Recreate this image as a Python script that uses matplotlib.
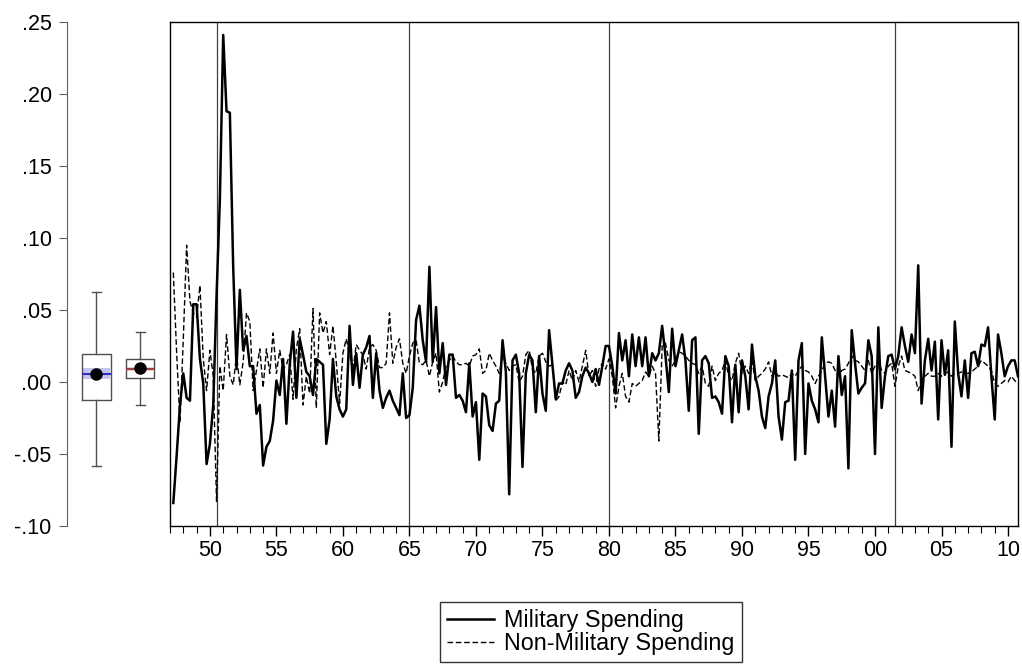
import matplotlib
matplotlib.use("Agg")
import matplotlib.pyplot as plt
import numpy as np
import pandas as pd

plt.rcParams["font.family"] = ["Liberation Sans", "DejaVu Sans"]

# quarterly growth of government spending, 1947Q2 - 2010Q4 (one row per year)
military = [
    -0.084, -0.051, -0.016,
    0.006, -0.011, -0.013, 0.054,
    0.054, 0.016, -0.001, -0.057,
    -0.043, -0.016, 0.060, 0.127,
    0.241, 0.188, 0.187, 0.080,
    0.009, 0.064, 0.022, 0.032,
    0.011, 0.011, -0.022, -0.016,
    -0.058, -0.045, -0.041, -0.027,
    0.001, -0.009, 0.016, -0.029,
    0.012, 0.035, -0.011, 0.030,
    0.019, 0.007, 0.004, -0.009,
    0.016, 0.014, 0.012, -0.043,
    -0.026, 0.016, -0.010, -0.019,
    -0.024, -0.019, 0.039, -0.002,
    0.020, -0.004, 0.019, 0.024,
    0.032, -0.011, 0.020, -0.006,
    -0.018, -0.011, -0.006, -0.013,
    -0.018, -0.023, 0.006, -0.025,
    -0.023, -0.004, 0.043, 0.053,
    0.029, 0.014, 0.080, 0.014,
    0.052, 0.006, 0.027, -0.002,
    0.019, 0.019, -0.011, -0.009,
    -0.013, -0.021, 0.013, -0.024,
    -0.014, -0.054, -0.008, -0.010,
    -0.030, -0.034, -0.015, -0.013,
    0.029, 0.007, -0.078, 0.015,
    0.019, 0.006, -0.059, 0.006,
    0.019, 0.015, -0.021, 0.018,
    -0.008, -0.020, 0.036, 0.012,
    -0.012, -0.001, -0.001, 0.008,
    0.013, 0.008, -0.011, -0.007,
    0.004, 0.010, 0.006, 0.000,
    0.009, -0.002, 0.011, 0.025,
    0.025, 0.011, -0.008, 0.034,
    0.015, 0.029, 0.004, 0.033,
    0.011, 0.031, 0.011, 0.031,
    0.004, 0.020, 0.015, 0.020,
    0.039, 0.018, -0.007, 0.037,
    0.011, 0.022, 0.033, 0.015,
    -0.020, 0.029, 0.031, -0.036,
    0.015, 0.018, 0.013, -0.011,
    -0.010, -0.014, -0.022, 0.018,
    0.011, -0.028, 0.012, -0.021,
    0.015, 0.004, -0.019, 0.026,
    0.004, -0.006, -0.024, -0.032,
    -0.010, -0.001, 0.015, -0.024,
    -0.040, -0.014, -0.013, 0.008,
    -0.054, 0.015, 0.027, -0.050,
    -0.001, -0.013, -0.019, -0.028,
    0.031, 0.004, -0.024, -0.006,
    -0.031, 0.018, -0.009, 0.004,
    -0.060, 0.036, 0.013, -0.008,
    -0.004, -0.001, 0.029, 0.018,
    -0.050, 0.038, -0.018, 0.004,
    0.018, 0.019, 0.009, 0.018,
    0.038, 0.025, 0.014, 0.033,
    0.020, 0.081, -0.015, 0.015,
    0.030, 0.008, 0.028, -0.026,
    0.029, 0.005, 0.022, -0.045,
    0.042, 0.006, -0.010, 0.015,
    -0.011, 0.020, 0.021, 0.011,
    0.026, 0.025, 0.038, 0.004,
    -0.026, 0.033, 0.020, 0.004,
    0.011, 0.015, 0.015, 0.004,
]

non_military = [
    0.076, 0.020, -0.028,
    0.030, 0.095, 0.056, 0.048,
    0.045, 0.067, 0.016, -0.006,
    0.022, 0.004, -0.083, 0.011,
    -0.006, 0.033, 0.004, -0.002,
    0.019, -0.002, 0.014, 0.048,
    0.042, -0.006, 0.008, 0.023,
    -0.004, 0.023, 0.006, 0.034,
    0.006, 0.022, 0.009, 0.012,
    0.019, -0.012, 0.023, 0.037,
    -0.016, 0.004, -0.008, 0.051,
    -0.018, 0.048, 0.034, 0.042,
    0.019, 0.039, 0.014, -0.015,
    0.020, 0.030, 0.019, 0.008,
    0.026, 0.022, 0.019, 0.009,
    0.024, 0.026, 0.022, 0.010,
    0.010, 0.013, 0.048, 0.013,
    0.024, 0.030, 0.013, 0.006,
    0.018, 0.027, 0.029, 0.013,
    0.012, 0.015, 0.004, 0.014,
    0.020, -0.007, 0.000, 0.011,
    0.015, 0.018, 0.014, 0.012,
    0.012, 0.013, 0.011, 0.018,
    0.019, 0.023, 0.006, 0.008,
    0.020, 0.015, 0.011, 0.006,
    0.018, 0.013, 0.008, 0.011,
    0.012, 0.000, 0.004, 0.019,
    0.022, 0.009, 0.006, 0.018,
    0.020, 0.014, 0.011, 0.012,
    -0.013, -0.010, 0.000, -0.002,
    0.008, 0.001, 0.008, 0.000,
    0.011, 0.022, 0.004, 0.008,
    -0.003, 0.009, 0.013, 0.009,
    0.016, 0.004, -0.018, -0.003,
    0.006, -0.010, -0.014, -0.001,
    -0.003, -0.001, 0.001, 0.007,
    0.004, 0.011, 0.006, -0.041,
    0.025, 0.027, 0.015, 0.011,
    0.015, 0.021, 0.020, 0.018,
    0.015, 0.013, 0.012, 0.006,
    0.011, -0.001, -0.003, 0.011,
    0.001, 0.006, 0.008, 0.015,
    0.004, 0.001, 0.013, 0.020,
    0.006, 0.011, 0.006, 0.015,
    0.001, 0.004, 0.006, 0.009,
    0.014, 0.004, 0.007, 0.004,
    0.005, 0.004, 0.003, 0.006,
    0.004, 0.008, 0.011, 0.008,
    0.007, 0.004, -0.001, 0.004,
    0.008, 0.013, 0.014, 0.013,
    0.008, 0.004, 0.008, 0.009,
    0.013, 0.018, 0.015, 0.014,
    0.011, 0.008, 0.015, 0.006,
    0.011, 0.015, 0.008, 0.006,
    0.011, 0.013, -0.003, 0.011,
    0.018, 0.008, 0.007, 0.006,
    0.004, -0.006, 0.001, 0.004,
    0.006, 0.004, 0.004, 0.006,
    0.004, 0.006, 0.007, 0.004,
    0.006, 0.006, 0.007, 0.006,
    0.006, 0.007, 0.009, 0.011,
    0.015, 0.013, 0.011, 0.008,
    -0.001, -0.003, -0.001, 0.001,
    0.000, 0.004, 0.001, -0.001,
]

quarters = pd.period_range("1947Q2", "2010Q4", freq="Q")
t = quarters.year + (quarters.quarter - 1) / 4

# box plot summaries: military, non-military
box_whislo = [-0.058, -0.016]
box_q1 = [-0.0125, 0.003]
box_med = [0.0055, 0.009]
box_q3 = [0.0195, 0.016]
box_whishi = [0.0625, 0.035]
box_mean = [0.0055, 0.010]
med_lo = [0.002, 0.0075]
med_hi = [0.0095, 0.0105]
med_colors = ["#3030c0", "#a04040"]
band_colors = ["#c4c4f0", "#e6dada"]

breaks = [1950.5, 1965.0, 1980.0, 2001.5]
year_ticks = np.arange(1950, 2011, 5)
year_labels = [f"{y % 100:02d}" for y in year_ticks]
y_ticks = np.arange(-0.10, 0.2501, 0.05)

W, H = 1022, 666
fig = plt.figure(figsize=(W / 100, H / 100), dpi=100)
bottom = 1 - 526 / H
height = (526 - 22) / H

# --- box plots on the left ---
axb = fig.add_axes([67 / W, bottom, 103 / W, height])
axb.set_xlim(0, 1)
axb.set_ylim(-0.10, 0.25)
for s in ["top", "right", "bottom"]:
    axb.spines[s].set_visible(False)
axb.spines["left"].set_color("#606060")
axb.set_xticks([])
axb.set_yticks(y_ticks)
axb.set_yticklabels([f"{v:.2f}".replace("0.", ".") for v in y_ticks], fontsize=15.5)
axb.tick_params(axis="y", direction="out", length=6, color="#606060", pad=5)
axb.patch.set_visible(False)

pos = [0.286, 0.712]
wid = [0.28, 0.27]
stats = []
for k in range(2):
    stats.append(dict(whislo=box_whislo[k], q1=box_q1[k], med=box_med[k], q3=box_q3[k],
                      whishi=box_whishi[k], mean=box_mean[k], fliers=[]))
    axb.fill_between([pos[k] - wid[k] / 2 + 0.01, pos[k] + wid[k] / 2 - 0.01],
                     med_lo[k], med_hi[k], color=band_colors[k], lw=0, zorder=1)
line_props = dict(color="#505050", lw=1)
bp = axb.bxp(stats, positions=pos, widths=wid, capwidths=[0.09, 0.09], showmeans=True,
             boxprops=line_props, whiskerprops=line_props, capprops=line_props,
             meanprops=dict(marker="o", markerfacecolor="black", markeredgecolor="black",
                            markersize=8),
             medianprops=dict(lw=1.5), manage_ticks=False)
for k, m in enumerate(bp["medians"]):
    m.set_color(med_colors[k])
for m in bp["means"]:
    m.set_zorder(5)

# --- main time series panel ---
ax = fig.add_axes([170 / W, bottom, 848 / W, height])
ax.plot(t, military, color="black", lw=1.8, label="Military Spending", zorder=3)
ax.plot(t, non_military, color="black", lw=1.0, dashes=(4, 2), label="Non-Military Spending",
        zorder=2)
for b in breaks:
    ax.axvline(b, color="#404040", lw=0.9, zorder=1)

ax.set_xlim(1947.0, 2010.75)
ax.set_ylim(-0.10, 0.25)
ax.set_yticks([])
ax.set_xticks(year_ticks)
ax.set_xticklabels(year_labels, fontsize=15.5)
ax.set_xticks(np.arange(1947, 2011), minor=True)
ax.tick_params(axis="x", which="major", direction="out", length=7, width=1, pad=3)
ax.tick_params(axis="x", which="minor", direction="out", length=5, width=0.8)
for s in ax.spines.values():
    s.set_linewidth(1.0)

leg = fig.legend(loc="center", bbox_to_anchor=(591 / W, 1 - 632 / H), fontsize=16.8,
                 frameon=True, fancybox=False, edgecolor="black", handlelength=2.0,
                 handletextpad=0.45, labelspacing=0.02, borderpad=0.3)
leg.get_frame().set_linewidth(1.0)

fig.savefig("out.png", dpi=100)
